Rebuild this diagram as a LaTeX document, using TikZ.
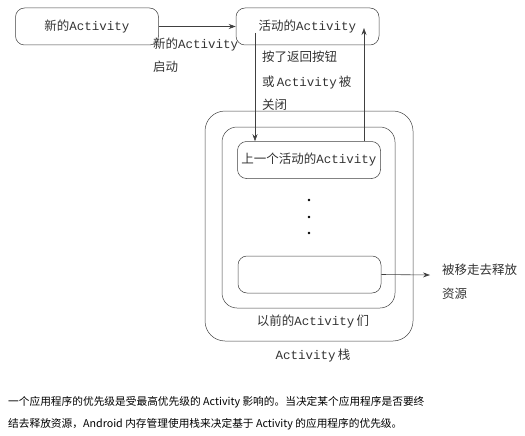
\documentclass[tikz,border=0pt]{standalone}
\usepackage{fontspec}
\setmainfont{Noto Sans CJK SC}
\newfontfamily\actfont{Liberation Mono}
\usetikzlibrary{positioning}
\usetikzlibrary{arrows.meta}
\definecolor{edge}{rgb}{0.25,0.25,0.25}
\definecolor{ink}{rgb}{0.2,0.2,0.2}
\newcommand{\act}{{\actfont Activity}}

\begin{document}
\begin{tikzpicture}[
  x=1pt, y=-1pt,
  box/.style = {draw=edge, line width=0.5pt, rounded corners=9pt, minimum width=143pt,
    minimum height=37pt, inner sep=0pt, text=ink, font=\fontsize{12.5}{15}\selectfont},
  stackbox/.style = {draw=edge, line width=0.5pt, rounded corners=#1, inner sep=0pt},
  note/.style = {align=left, anchor=base west, inner sep=0pt, text=ink,
    font=\fontsize{12.5}{24}\selectfont},
  title/.style = {inner sep=0pt, text=ink, font=\fontsize{12.5}{15}\selectfont},
  caption/.style = {anchor=base west, inner sep=0pt, font=\fontsize{10.7}{13}\selectfont},
  dot/.style = {circle, fill=black, inner sep=0pt, minimum size=2.6pt},
  arrow/.style = {->, edge, line width=0.6pt},
  >={Stealth[length=7pt, width=5pt]},
]
  \useasboundingbox (0,0) rectangle (525,436);

  % top row
  \node[box] (new) at (87,26.5) {新的\act};
  \node[box] (cur) at (307.5,26.5) {活动的\act};

  % the stack
  \node[stackbox=20pt, minimum width=208pt, minimum height=230pt] (stack) at (309,226) {};
  \node[stackbox=15pt, minimum width=173pt, minimum height=181pt] (past) at (308.5,217.5) {};
  \node[box] (prev) at (309,160) {上一个活动的\act};
  \node[box] (old) at (309.5,274.5) {};

  \foreach \y/\name in {200/d1, 217/d2, 233/d3}
    \node[dot] (\name) at (309,\y) {};

  \node[title] (pastname) at (313,322) {以前的\act\,们};
  \node[title] (stackname) at (313,356) {\act\,栈};

  % labels (placed at the baseline of their last line)
  \node[note] (start) at (153,72) {新的\act\\启动};
  \node[note] (back) at (262,110) {按了返回按钮\\或\,\act\,被\\关闭};
  \node[note] (free) at (442,298) {被移走去释放\\资源};

  % arrows
  \coordinate (down) at (255,33);
  \coordinate (resume) at (364,28);
  \coordinate (gone) at (430,275);

  \draw[arrow] (new) -- (cur);
  \draw[arrow] (down) -- (down |- prev.north);
  \draw[arrow] (resume |- prev.north) -- (resume);
  \draw[arrow] (old.east) -- (gone);

  % text below
  \node[caption] (cap1) at (8,405) {一个应用程序的优先级是受最高优先级的 Activity 影响的。当决定某个应用程序是否要终};
  \node[caption] (cap2) at (8,427) {结去释放资源，Android 内存管理使用栈来决定基于 Activity 的应用程序的优先级。};

\end{tikzpicture}
\end{document}
